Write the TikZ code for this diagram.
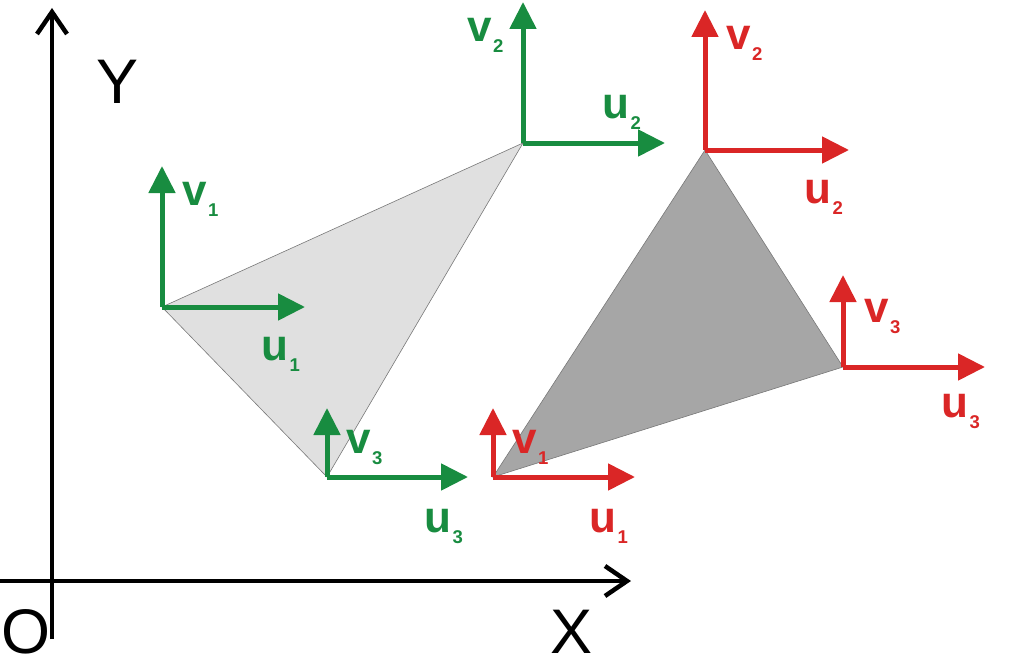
\documentclass[tikz,border=0pt]{standalone}
\usepackage{fontspec}
\setmainfont{Liberation Sans}
\usetikzlibrary{arrows.meta}
\definecolor{vgreen}{RGB}{24,140,64}
\definecolor{vred}{RGB}{218,38,38}
\definecolor{lightfill}{RGB}{224,224,224}
\definecolor{darkfill}{RGB}{166,166,166}
\definecolor{edgegray}{RGB}{120,120,120}
\newcommand{\vlab}[2]{#1\kern1.5pt\raisebox{-11pt}{\fontsize{18.5}{18.5}\selectfont\bfseries #2}}
\begin{document}
\begin{tikzpicture}[x=1pt,y=-1pt,
  axisline/.style={line width=4.5pt,-{Straight Barb[length=22pt,width=30pt]}},
  frame/.style={line width=5pt,-{Triangle[length=27pt,width=26pt]}},
  tri/.style={draw=edgegray,line width=0.6pt},
  lab/.style={anchor=base west,inner sep=0pt,font=\fontsize{44}{44}\selectfont\bfseries},
  axlab/.style={anchor=base west,inner sep=0pt,font=\fontsize{63}{63}\selectfont}]
\useasboundingbox (0,0) rectangle (1023,669);
% axes
\coordinate (yb) at (52,639);
\coordinate (yt) at (52,8);
\coordinate (xl) at (0,581);
\coordinate (xr) at (631,581);
\draw[axisline] (yb) -- (yt);
\draw[axisline] (xl) -- (xr);
\node[axlab] (Ylab) at (96,103) {Y};
\node[axlab] (Xlab) at (550,653) {X};
\node[axlab] (Olab) at (1,653) {O};
% green triangle
\coordinate (g1) at (162,307);
\coordinate (g2) at (523,143);
\coordinate (g3) at (327,477);
\filldraw[tri,fill=lightfill] (g1) -- (g2) -- (g3) -- cycle;
% red triangle
\coordinate (r1) at (493,477);
\coordinate (r2) at (705,150);
\coordinate (r3) at (843,367);
\filldraw[tri,fill=darkfill] (r1) -- (r2) -- (r3) -- cycle;
% green frames
\coordinate (g1v) at (162,166);
\coordinate (g1u) at (305,307);
\coordinate (g2v) at (523,2);
\coordinate (g2u) at (665,143);
\coordinate (g3v) at (327,408);
\coordinate (g3u) at (468,477);
\draw[frame,vgreen] (g1) -- (g1v);
\draw[frame,vgreen] (g1) -- (g1u);
\draw[frame,vgreen] (g2) -- (g2v);
\draw[frame,vgreen] (g2) -- (g2u);
\draw[frame,vgreen] (g3) -- (g3v);
\draw[frame,vgreen] (g3) -- (g3u);
% red frames
\coordinate (r1v) at (493,408);
\coordinate (r1u) at (635,477);
\coordinate (r2v) at (705,10);
\coordinate (r2u) at (849,150);
\coordinate (r3v) at (843,275);
\coordinate (r3u) at (985,367);
\draw[frame,vred] (r1) -- (r1v);
\draw[frame,vred] (r1) -- (r1u);
\draw[frame,vred] (r2) -- (r2v);
\draw[frame,vred] (r2) -- (r2u);
\draw[frame,vred] (r3) -- (r3v);
\draw[frame,vred] (r3) -- (r3u);
% green labels
\node[lab,text=vgreen] (lv1) at (182,205) {\vlab{v}{1}};
\node[lab,text=vgreen] (lu1) at (261,360) {\vlab{u}{1}};
\node[lab,text=vgreen] (lv2) at (467,42) {\vlab{v}{2}};
\node[lab,text=vgreen] (lu2) at (602,118) {\vlab{u}{2}};
\node[lab,text=vgreen] (lv3) at (346,453) {\vlab{v}{3}};
\node[lab,text=vgreen] (lu3) at (424,532) {\vlab{u}{3}};
% red labels
\node[lab,text=vred] (rv1) at (512,453) {\vlab{v}{1}};
\node[lab,text=vred] (ru1) at (589,532) {\vlab{u}{1}};
\node[lab,text=vred] (rv2) at (726,50) {\vlab{v}{2}};
\node[lab,text=vred] (ru2) at (804,203) {\vlab{u}{2}};
\node[lab,text=vred] (rv3) at (864,322) {\vlab{v}{3}};
\node[lab,text=vred] (ru3) at (941,417) {\vlab{u}{3}};
\end{tikzpicture}
\end{document}
